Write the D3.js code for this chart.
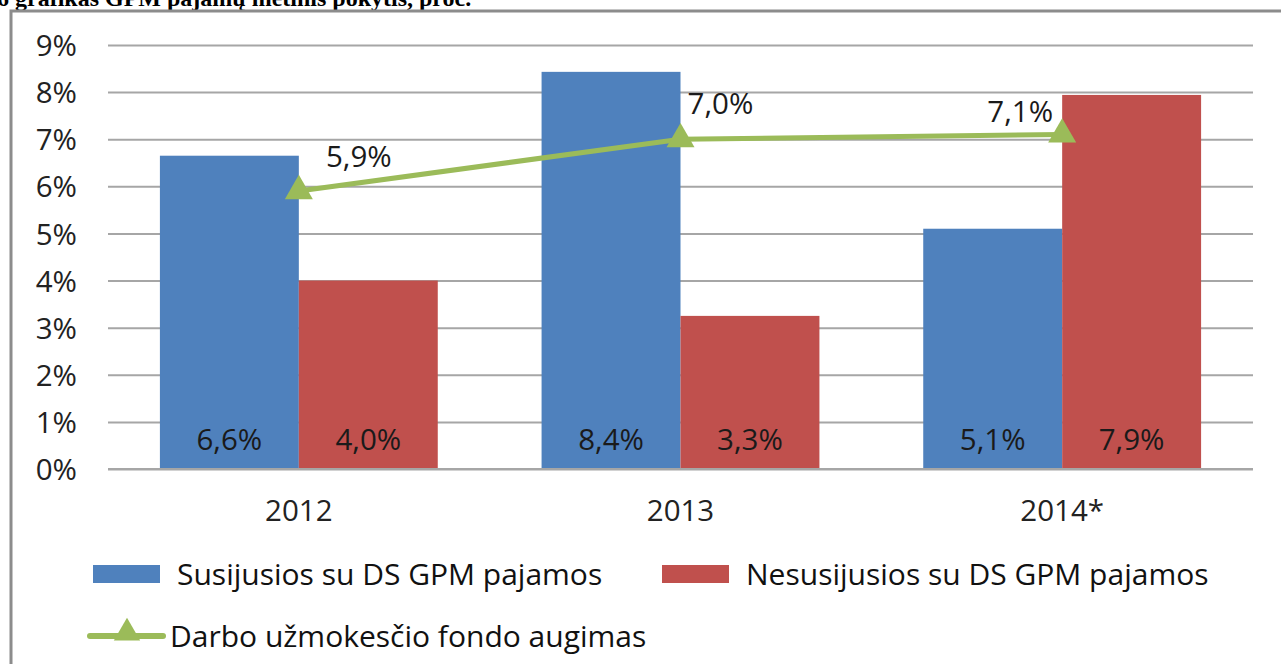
<!DOCTYPE html>
<html><head><meta charset="utf-8">
<script src="https://cdn.jsdelivr.net/npm/d3@7"></script>
<style>body{margin:0;background:#fff;}svg{display:block;}</style>
</head><body><div id="chart"></div>
<script>
const categories = ["2012", "2013", "2014*"];
const seriesNames = ["Susijusios su DS GPM pajamos", "Nesusijusios su DS GPM pajamos"];
const relatedValues = [6.65, 8.43, 5.1];
const unrelatedValues = [4.0, 3.25, 7.94];
const relatedLabels = ["6,6%", "8,4%", "5,1%"];
const unrelatedLabels = ["4,0%", "3,3%", "7,9%"];
const lineName = "Darbo užmokesčio fondo augimas";
const lineValues = [5.9, 7.0, 7.1];
const lineLabels = ["5,9%", "7,0%", "7,1%"];
const yTicks = [0,1,2,3,4,5,6,7,8,9];
const title = "6 grafikas GPM pajamų metinis pokytis, proc.";

const W = 1281, H = 664;
const colors = ["#4F81BD", "#C0504D"], lineColor = "#9BBB59";
const font = "'Open Sans', Calibri, sans-serif";
const numSize = 29.5, legSize = 30;
const svg = d3.select("#chart").append("svg").attr("width", W).attr("height", H);

// title (cut off at top, as in the source)
svg.append("text").attr("x", -3).attr("y", 6).text(title)
  .attr("font-family", "'Liberation Serif', serif").attr("font-weight", "bold").attr("font-size", 24).attr("fill", "#000");

// frame
svg.append("path").attr("d", `M11,${H+5} V11 H${W+5}`).attr("fill", "none").attr("stroke", "#8c8c8c").attr("stroke-width", 3);

const x0 = 108, x1 = 1253;
const y = d3.scaleLinear().domain([0, 9]).range([469, 45]);
const xb = d3.scaleBand().domain(categories).range([x0, x1]).paddingInner(0.272).paddingOuter(0.136);
const xs = d3.scaleBand().domain([0,1]).range([0, xb.bandwidth()]);

// gridlines + y labels
const yAxis = d3.axisLeft(y).tickValues(yTicks).tickSize(-(x1-x0)).tickFormat(d => d + "%").tickPadding(31);
const ga = svg.append("g").attr("transform", `translate(${x0},0)`).call(yAxis);
ga.select(".domain").remove();
ga.selectAll(".tick line").attr("stroke", "#a6a6a6").attr("stroke-width", 2);
ga.selectAll(".tick text").attr("font-family", font).attr("font-size", numSize).attr("fill", "#222").attr("dy", "0.36em");

// bars
const series = [relatedValues, unrelatedValues];
const labels = [relatedLabels, unrelatedLabels];
series.forEach((vals, si) => {
  svg.append("g").selectAll("rect").data(vals).join("rect")
    .attr("x", (d, i) => xb(categories[i]) + xs(si))
    .attr("y", d => y(d)).attr("width", xs.bandwidth()).attr("height", d => y(0) - y(d))
    .attr("fill", colors[si]);
  svg.append("g").selectAll("text").data(labels[si]).join("text")
    .attr("x", (d, i) => xb(categories[i]) + xs(si) + xs.bandwidth()/2)
    .attr("y", y(0.62)).attr("text-anchor", "middle").attr("dy", "0.36em")
    .attr("font-family", font).attr("font-size", numSize).attr("fill", "#1a1a1a").text(d => d);
});

// baseline
svg.append("line").attr("x1", x0).attr("x2", x1).attr("y1", y(0)).attr("y2", y(0)).attr("stroke", "#a6a6a6").attr("stroke-width", 2);

// category labels
const xAxis = d3.axisBottom(xb).tickSize(0);
const gx = svg.append("g").attr("transform", `translate(0,${y(0)})`).call(xAxis);
gx.select(".domain").remove();
gx.selectAll(".tick text").attr("y", 41).attr("dy", "0.36em")
  .attr("font-family", font).attr("font-size", numSize).attr("fill", "#222");

// line
const cx = (d, i) => xb(categories[i]) + xb.bandwidth()/2;
svg.append("path").datum(lineValues)
  .attr("d", d3.line().x(cx).y(d => y(d)))
  .attr("fill", "none").attr("stroke", lineColor).attr("stroke-width", 5);
const tri = d3.symbol().type(d3.symbolTriangle).size(340);
svg.append("g").selectAll("path").data(lineValues).join("path")
  .attr("transform", (d, i) => `translate(${cx(d, i)},${y(d)})`).attr("d", tri).attr("fill", lineColor);
const lblOff = [[60, -35], [40, -36], [-42, -23]];
svg.append("g").selectAll("text").data(lineLabels).join("text")
  .attr("x", (d, i) => cx(d, i) + lblOff[i][0]).attr("y", (d, i) => y(lineValues[i]) + lblOff[i][1])
  .attr("text-anchor", "middle").attr("dy", "0.36em")
  .attr("font-family", font).attr("font-size", numSize).attr("fill", "#1a1a1a").text(d => d);

// legend
const lg = svg.append("g");
[[93, 574, 0], [662, 574, 1]].forEach(([lx, ly, si]) => {
  lg.append("rect").attr("x", lx).attr("y", ly - 9).attr("width", 67).attr("height", 18).attr("fill", colors[si]);
  lg.append("text").attr("x", lx + 84).attr("y", ly).attr("dy", "0.36em").attr("font-family", font)
    .attr("font-size", legSize).attr("fill", "#111").text(seriesNames[si]);
});
lg.append("line").attr("x1", 90).attr("x2", 163).attr("y1", 636).attr("y2", 636).attr("stroke", lineColor).attr("stroke-width", 6).attr("stroke-linecap", "round");
lg.append("path").attr("transform", "translate(127,633)").attr("d", d3.symbol().type(d3.symbolTriangle).size(300)).attr("fill", lineColor);
lg.append("text").attr("x", 170).attr("y", 636).attr("dy", "0.36em").attr("font-family", font)
  .attr("font-size", legSize).attr("fill", "#111").text(lineName);
</script></body></html>
